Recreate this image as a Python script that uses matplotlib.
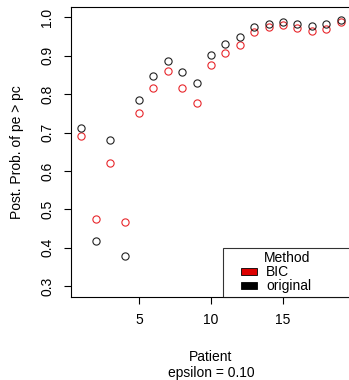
import matplotlib
matplotlib.use('Agg')
import matplotlib.pyplot as plt
from matplotlib.patches import Patch, Rectangle
from matplotlib.legend_handler import HandlerPatch

plt.rcParams['font.family'] = ['Liberation Sans', 'DejaVu Sans']

# === DATA ===
patients = list(range(1, 20))
prob_original = [0.711, 0.417, 0.680, 0.379, 0.786, 0.848, 0.887, 0.857, 0.830, 0.902,
                 0.931, 0.949, 0.975, 0.983, 0.989, 0.983, 0.978, 0.983, 0.994]
prob_bic = [0.690, 0.475, 0.621, 0.467, 0.752, 0.817, 0.860, 0.817, 0.776, 0.875,
            0.907, 0.928, 0.963, 0.976, 0.981, 0.973, 0.965, 0.970, 0.989]
yticks = [0.3, 0.4, 0.5, 0.6, 0.7, 0.8, 0.9, 1.0]
xticks = [5, 10, 15]
methods = ['BIC', 'original']
method_colors = ['#dd0000', 'black']

red = '#e8262b'
black = '#222222'
fs = 10


# legend key: a flat box sitting at the right end of a wider handle area
def flat_box(legend, orig_handle, xdescent, ydescent, width, height, fontsize):
    w = 0.53 * width
    h = 0.86 * height
    return Rectangle((width - w - xdescent, (height - h) / 2 - ydescent), w, h)


# === PLOT ===
fig = plt.figure(figsize=(3.49, 3.80), dpi=100)
ax = fig.add_axes([71 / 349, 1 - 296.7 / 380, 280 / 349, 290 / 380])

ax.plot(patients, prob_bic, 'o', mfc='none', mec=red, ms=5.2, mew=0.8)
ax.plot(patients, prob_original, 'o', mfc='none', mec=black, ms=5.2, mew=0.8)

ax.set_xlim(1 - 18 * 0.04, 19 + 18 * 0.04)
ax.set_ylim(0.3 - 0.7 * 0.04, 1.0 + 0.7 * 0.04)
ax.set_xticks(xticks)
ax.set_yticks(yticks)
ax.set_yticklabels([f'{v:.1f}' for v in yticks], rotation=90, va='center')
ax.tick_params(direction='out', length=5, width=0.8, labelsize=fs, pad=7)
for s in ax.spines.values():
    s.set_linewidth(0.8)

ax.set_xlabel('Patient\nepsilon = 0.10', fontsize=fs, labelpad=16, linespacing=1.2)
ax.set_ylabel('Post. Prob. of pe > pc', fontsize=fs, labelpad=12)

handles = [Patch(facecolor=c, edgecolor='black', linewidth=0.6) for c in method_colors]
x0 = (223 - 71) / 280
leg = ax.legend(handles, methods, title='Method', loc='lower left',
                bbox_to_anchor=(x0, 0, 1 - x0, 0.1), mode='expand', borderaxespad=0,
                fancybox=False, fontsize=fs, title_fontsize=fs,
                handlelength=2.17, handleheight=0.5, handletextpad=0.7,
                labelspacing=0.0, borderpad=0.25,
                handler_map={Patch: HandlerPatch(patch_func=flat_box)})
leg.get_frame().set_edgecolor('black')
leg.get_frame().set_linewidth(0.8)

fig.savefig('out.png', dpi=100)
